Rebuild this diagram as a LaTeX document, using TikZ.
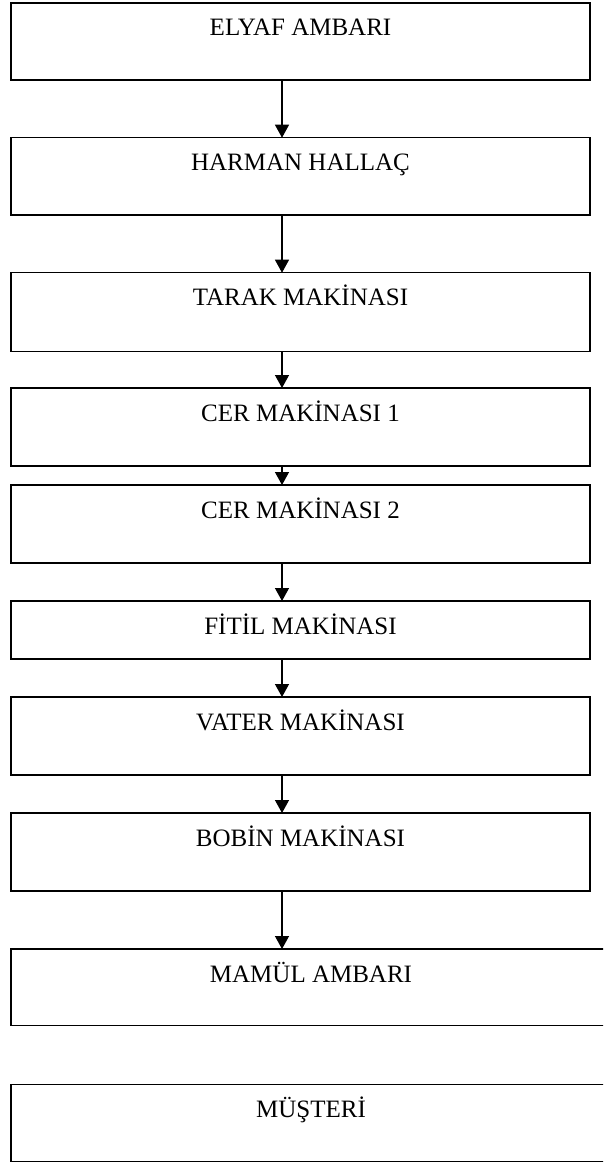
\documentclass[tikz,border=0pt]{standalone}
\usepackage{fontspec}
\setmainfont{Liberation Serif}
\usetikzlibrary{arrows.meta,calc}
\tikzset{
  box/.style={draw=black, line width=1.3pt, inner sep=0pt, outer sep=0pt, minimum width=579pt},
  widebox/.style={box, minimum width=600pt},
  lbl/.style={anchor=base, inner sep=0pt, font=\fontsize{25}{30}\selectfont},
  arr/.style={draw=black, line width=1.3pt, -{Triangle[length=13pt,width=14pt]}}
}
\begin{document}
\begin{tikzpicture}[x=1pt,y=-1pt]
\useasboundingbox (0,0) rectangle (603,1164);
\clip (0,0) rectangle (603,1164);
\fill[white] (0,0) rectangle (603,1164);
\coordinate (ax) at (282,0);
\node[box, minimum height=77pt]  (b1)  at (300.5,41.5)    {};
\node[box, minimum height=77.3pt] (b2) at (300.5,176.35)  {};
\node[box, minimum height=79pt]  (b3)  at (300.5,312.2)   {};
\node[box, minimum height=78pt]  (b4)  at (300.5,427)     {};
\node[box, minimum height=78pt]  (b5)  at (300.5,524)     {};
\node[box, minimum height=58pt]  (b6)  at (300.5,630)     {};
\node[box, minimum height=78pt]  (b7)  at (300.5,736)     {};
\node[box, minimum height=78pt]  (b8)  at (300.5,852)     {};
\node[widebox, minimum height=76.7pt] (b9)  at (311,987.35)  {};
\node[widebox, minimum height=77.2pt] (b10) at (311,1123.1)  {};
\node[lbl] (t1)  at ($(b1.north)+(0,33)$)  {ELYAF AMBARI};
\node[lbl] (t2)  at ($(b2.north)+(0,33)$)  {HARMAN HALLAÇ};
\node[lbl] (t3)  at ($(b3.north)+(0,33)$)  {TARAK MAKİNASI};
\node[lbl] (t4)  at ($(b4.north)+(0,33)$)  {CER MAKİNASI 1};
\node[lbl] (t5)  at ($(b5.north)+(0,33)$)  {CER MAKİNASI 2};
\node[lbl] (t6)  at ($(b6.north)+(0,33)$)  {FİTİL MAKİNASI};
\node[lbl] (t7)  at ($(b7.north)+(0,33)$)  {VATER MAKİNASI};
\node[lbl] (t8)  at ($(b8.north)+(0,33)$)  {BOBİN MAKİNASI};
\node[lbl] (t9)  at ($(b9.north)+(0,33)$)  {MAMÜL AMBARI};
\node[lbl] (t10) at ($(b10.north)+(0,33)$) {MÜŞTERİ};
\draw[arr] (b1.south -| ax) -- (b2.north -| ax);
\draw[arr] (b2.south -| ax) -- (b3.north -| ax);
\draw[arr] (b3.south -| ax) -- (b4.north -| ax);
\draw[arr] (b4.south -| ax) -- (b5.north -| ax);
\draw[arr] (b5.south -| ax) -- (b6.north -| ax);
\draw[arr] (b6.south -| ax) -- (b7.north -| ax);
\draw[arr] (b7.south -| ax) -- (b8.north -| ax);
\draw[arr] (b8.south -| ax) -- (b9.north -| ax);
\end{tikzpicture}
\end{document}
